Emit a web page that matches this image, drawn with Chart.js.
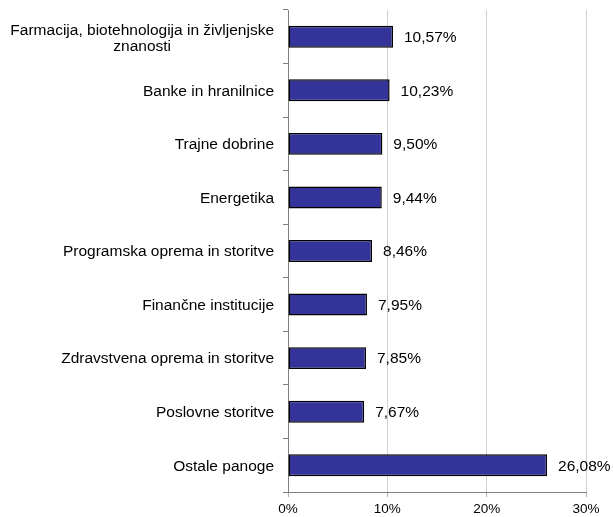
<!DOCTYPE html>
<html>
<head>
<meta charset="utf-8">
<script src="https://cdn.jsdelivr.net/npm/chart.js@4.4.0/dist/chart.umd.min.js"></script>
<style>
  html, body { margin: 0; padding: 0; background: #fff; }
  #wrap { width: 613px; height: 517px; }
</style>
</head>
<body>
<div id="wrap"><canvas id="myChart" width="613" height="517"></canvas></div>
<script>
// Podatki
const categories = [
  ["Farmacija, biotehnologija in življenjske", "znanosti"],
  "Banke in hranilnice",
  "Trajne dobrine",
  "Energetika",
  "Programska oprema in storitve",
  "Finančne institucije",
  "Zdravstvena oprema in storitve",
  "Poslovne storitve",
  "Ostale panoge"
];
const shares = [10.57, 10.23, 9.50, 9.44, 8.46, 7.95, 7.85, 7.67, 26.08];
const xTicks = [0, 10, 20, 30];

const FONT = "'Liberation Sans', Arial, sans-serif";

// oznake kategorij (poravnane desno, večvrstične centrirane)
const catLabels = {
  id: "catLabels",
  afterDraw(chart) {
    const ctx = chart.ctx;
    const y = chart.scales.y;
    ctx.save();
    ctx.font = "15.5px " + FONT;
    ctx.fillStyle = "#000";
    ctx.textBaseline = "middle";
    const right = y.right - 14;
    categories.forEach((c, i) => {
      const cy = y.getPixelForValue(i);
      if (Array.isArray(c)) {
        const w = Math.max(...c.map(s => ctx.measureText(s).width));
        ctx.textAlign = "center";
        const lh = 16;
        c.forEach((s, k) => {
          ctx.fillText(s, right - w / 2, cy + 1.5 + (k - (c.length - 1) / 2) * lh);
        });
      } else {
        ctx.textAlign = "right";
        ctx.fillText(c, right, cy + 1);
      }
    });
    ctx.restore();
  }
};

// vrednosti ob stolpcih
const valueLabels = {
  id: "valueLabels",
  afterDatasetsDraw(chart) {
    const ctx = chart.ctx;
    const meta = chart.getDatasetMeta(0);
    ctx.save();
    ctx.font = "15.5px " + FONT;
    ctx.fillStyle = "#000";
    ctx.textAlign = "left";
    ctx.textBaseline = "middle";
    meta.data.forEach((bar, i) => {
      ctx.fillText(shares[i].toFixed(2).replace(".", ",") + "%", bar.x + 11, bar.y + 1);
    });
    ctx.restore();
  }
};

new Chart(document.getElementById("myChart"), {
  type: "bar",
  data: {
    labels: categories.map(c => Array.isArray(c) ? c.join(" ") : c),
    datasets: [{
      data: shares,
      backgroundColor: "#333399",
      borderColor: "#000",
      borderWidth: 1.5,
      borderSkipped: false,
      barPercentage: 0.41,
      categoryPercentage: 1
    }]
  },
  options: {
    indexAxis: "y",
    responsive: false,
    animation: false,
    layout: { padding: { top: 10, right: 27, left: 0, bottom: 0 } },
    plugins: { legend: { display: false }, tooltip: { enabled: false } },
    scales: {
      x: {
        min: 0,
        max: 30,
        afterBuildTicks: s => { s.ticks = xTicks.map(v => ({ value: v })); },
        afterFit: s => { s.height = 25; },
        grid: { color: "#d0d0d0", tickColor: "#b0b0b0", tickLength: 5, lineWidth: 1 },
        border: { color: "#808080", width: 1 },
        ticks: {
          color: "#000",
          font: { family: FONT, size: 13.5 },
          padding: 4,
          callback: v => v + "%"
        }
      },
      y: {
        afterFit: s => { s.width = 288; },
        grid: { offset: true, drawOnChartArea: false, color: "#808080", tickLength: 5 },
        border: { color: "#808080", width: 1 },
        ticks: { display: false }
      }
    }
  },
  plugins: [valueLabels, catLabels]
});
</script>
</body>
</html>
